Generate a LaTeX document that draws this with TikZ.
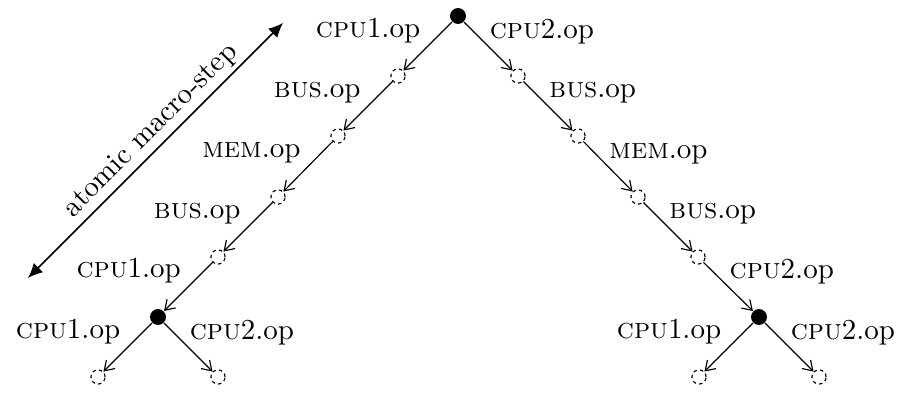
\documentclass[tikz,border=0pt]{standalone}
\usetikzlibrary{arrows.meta}
\begin{document}
\begin{tikzpicture}[x=0.345pt,y=-0.345pt,
  state/.style={circle,fill=black,minimum size=5.5pt,inner sep=0pt},
  ghost/.style={circle,draw,dash pattern=on 1.2pt off 1.1pt,minimum size=4.9pt,inner sep=0pt},
  edge/.style={-{Straight Barb[length=3.2pt,width=4.2pt]}},
  lblL/.style={midway,anchor=base east,inner sep=0pt,xshift=-2.4pt,yshift=3.1pt},
  lblR/.style={midway,anchor=base west,inner sep=0pt,xshift=0.3pt,yshift=2.8pt},
  macro/.style={{Latex[length=5pt,width=4.5pt]}-{Latex[length=5pt,width=4.5pt]},line width=0.5pt}]
\useasboundingbox (0,0) rectangle (900,394);
\node[state] (r) at (458,16) {};
\node[ghost] (l1) at (398,76) {};
\node[ghost] (l2) at (338,136) {};
\node[ghost] (l3) at (278,197) {};
\node[ghost] (l4) at (218,257) {};
\node[state] (L) at (158,317) {};
\node[ghost] (La) at (98,377) {};
\node[ghost] (Lb) at (218,377) {};
\node[ghost] (r1) at (518,76) {};
\node[ghost] (r2) at (578,136) {};
\node[ghost] (r3) at (638,197) {};
\node[ghost] (r4) at (698,257) {};
\node[state] (R) at (759,317) {};
\node[ghost] (Ra) at (699,377) {};
\node[ghost] (Rb) at (819,377) {};
\draw[edge] (r) -- node[lblL] {\textsc{cpu}1.op} (l1);
\draw[edge] (l1) -- node[lblL] {\textsc{bus}.op} (l2);
\draw[edge] (l2) -- node[lblL] {\textsc{mem}.op} (l3);
\draw[edge] (l3) -- node[lblL] {\textsc{bus}.op} (l4);
\draw[edge] (l4) -- node[lblL] {\textsc{cpu}1.op} (L);
\draw[edge] (L) -- node[lblL] {\textsc{cpu}1.op} (La);
\draw[edge] (L) -- node[lblR] {\textsc{cpu}2.op} (Lb);
\draw[edge] (r) -- node[lblR] {\textsc{cpu}2.op} (r1);
\draw[edge] (r1) -- node[lblR] {\textsc{bus}.op} (r2);
\draw[edge] (r2) -- node[lblR] {\textsc{mem}.op} (r3);
\draw[edge] (r3) -- node[lblR] {\textsc{bus}.op} (r4);
\draw[edge] (r4) -- node[lblR] {\textsc{cpu}2.op} (R);
\draw[edge] (R) -- node[lblL] {\textsc{cpu}1.op} (Ra);
\draw[edge] (R) -- node[lblR] {\textsc{cpu}2.op} (Rb);
\coordinate (mA) at (28,278);
\coordinate (mB) at (283,23);
\draw[macro] (mA) -- node[pos=0.53,above,sloped,inner sep=1.4pt] {atomic macro-step} (mB);
\end{tikzpicture}
\end{document}
